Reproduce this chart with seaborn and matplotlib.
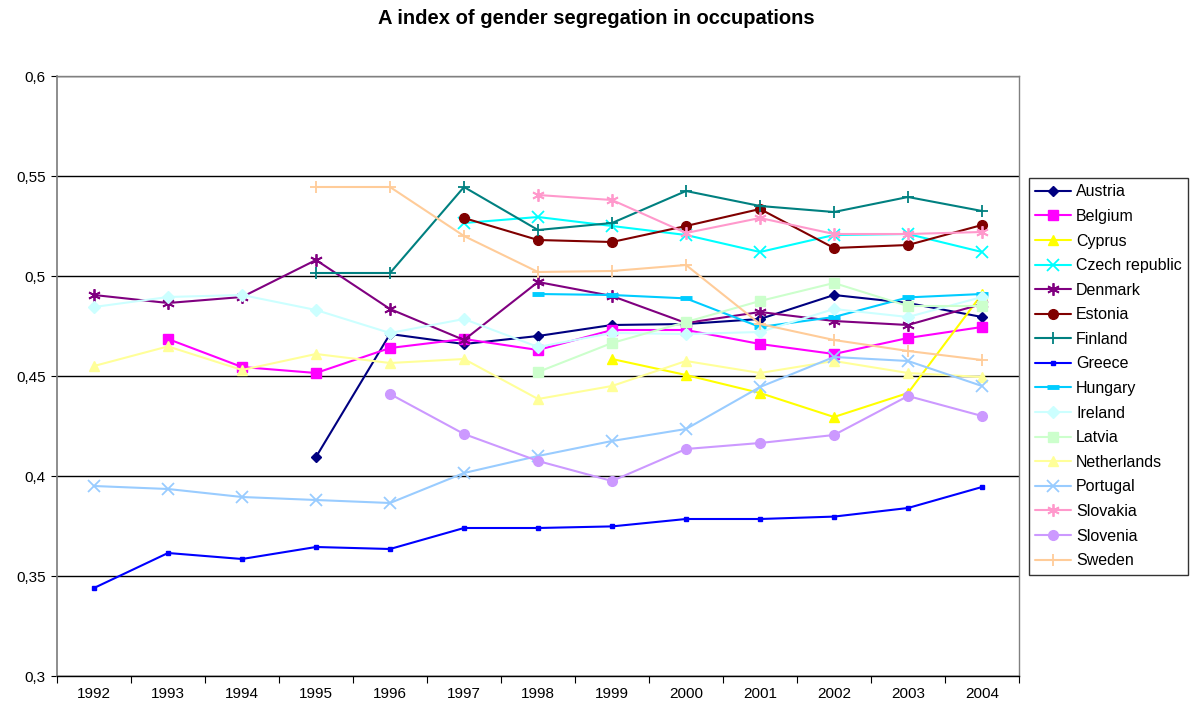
import numpy as np
import pandas as pd
import matplotlib
matplotlib.use("Agg")
import matplotlib.pyplot as plt
import seaborn as sns

years = ["1992", "1993", "1994", "1995", "1996", "1997", "1998", "1999", "2000", "2001", "2002", "2003", "2004"]
nan = np.nan

austria = [nan, nan, nan, 0.4095, 0.471, 0.466, 0.470, 0.4755, 0.476, 0.4785, 0.4905, 0.4865, 0.4795]
belgium = [nan, 0.4685, 0.4545, 0.4515, 0.464, 0.4685, 0.463, 0.473, 0.473, 0.466, 0.461, 0.469, 0.4745]
cyprus = [nan, nan, nan, nan, nan, nan, nan, 0.4585, 0.4505, 0.4415, 0.4295, 0.4415, 0.491]
czech = [nan, nan, nan, nan, nan, 0.5265, 0.5295, 0.525, 0.5205, 0.512, 0.5205, 0.521, 0.512]
denmark = [0.4905, 0.4865, 0.4895, 0.508, 0.4835, 0.468, 0.497, 0.490, 0.4765, 0.482, 0.4775, 0.4755, 0.486]
estonia = [nan, nan, nan, nan, nan, 0.529, 0.518, 0.517, 0.525, 0.5335, 0.514, 0.5155, 0.5255]
finland = [nan, nan, nan, 0.5015, 0.5015, 0.5445, 0.523, 0.5265, 0.5425, 0.535, 0.532, 0.5395, 0.5325]
greece = [0.344, 0.3615, 0.3585, 0.3645, 0.3635, 0.374, 0.374, 0.3748, 0.3785, 0.3785, 0.3797, 0.384, 0.3945]
hungary = [nan, nan, nan, nan, nan, nan, 0.491, 0.4905, 0.4888, 0.4745, 0.4795, 0.4893, 0.491]
ireland = [0.4845, 0.4895, 0.4905, 0.483, 0.4715, 0.4785, 0.4645, 0.4715, 0.471, 0.472, 0.4835, 0.4795, 0.4895]
latvia = [nan, nan, nan, nan, nan, nan, 0.452, 0.4665, 0.477, 0.4875, 0.4965, 0.485, 0.485]
netherlands = [0.455, 0.4648, 0.453, 0.461, 0.4565, 0.4585, 0.4385, 0.445, 0.4575, 0.4515, 0.4575, 0.4515, 0.4495]
portugal = [0.395, 0.3935, 0.3895, 0.388, 0.3865, 0.4015, 0.410, 0.4175, 0.4235, 0.4445, 0.4595, 0.4575, 0.445]
slovakia = [nan, nan, nan, nan, nan, nan, 0.5405, 0.538, 0.5215, 0.529, 0.521, 0.521, 0.522]
slovenia = [nan, nan, nan, nan, 0.441, 0.421, 0.4075, 0.3975, 0.4135, 0.4165, 0.4205, 0.440, 0.430]
sweden = [nan, nan, nan, 0.5445, 0.5445, 0.520, 0.502, 0.5025, 0.5055, 0.476, 0.468, 0.4625, 0.458]

countries = ["Austria", "Belgium", "Cyprus", "Czech republic", "Denmark", "Estonia", "Finland",
             "Greece", "Hungary", "Ireland", "Latvia", "Netherlands", "Portugal", "Slovakia",
             "Slovenia", "Sweden"]
series = [austria, belgium, cyprus, czech, denmark, estonia, finland, greece, hungary, ireland,
          latvia, netherlands, portugal, slovakia, slovenia, sweden]

colors = ["#000080", "#FF00FF", "#FFFF00", "#00FFFF", "#800080", "#800000", "#008080", "#0000FF",
          "#00CCFF", "#CCFFFF", "#CCFFCC", "#FFFF99", "#99CCFF", "#FF99CC", "#CC99FF", "#FFCC99"]
ast = (6, 2, 0)
markers = ["D", "s", "^", "x", ast, "o", "+", "s", "_", "D", "s", "^", "x", ast, "o", "+"]
msizes = [5, 7, 7, 8, 9, 7, 9, 3, 8, 6, 7, 7, 8, 9, 7, 9]
mews = [1, 1, 1, 1.3, 1.3, 1, 1.3, 1, 3.5, 1, 1, 1, 1.3, 1.3, 1, 1.3]

sns.set_theme(style="white")
plt.rcParams["font.family"] = ["Liberation Sans", "DejaVu Sans"]
plt.rcParams["text.color"] = "black"

fig = plt.figure(figsize=(11.93, 7.11), dpi=100)
ax = fig.add_axes([57 / 1193, 1 - 676 / 711, (1019 - 57) / 1193, 600 / 711])

xpos = np.arange(len(years))
for name, vals, c, m, ms, mew in zip(countries, series, colors, markers, msizes, mews):
    df = pd.DataFrame({"x": xpos, "y": vals}).dropna()
    sns.lineplot(data=df, x="x", y="y", ax=ax, color=c, marker=m, markersize=ms,
                 markeredgewidth=mew, markeredgecolor=c, markerfacecolor=c,
                 linewidth=1.5, label=name, sort=False, estimator=None)

ax.set_xlim(-0.5, len(years) - 0.5)
ax.set_ylim(0.3, 0.6)
yt = [0.3, 0.35, 0.4, 0.45, 0.5, 0.55, 0.6]
ax.set_yticks(yt)
ax.set_yticklabels([("%g" % v).replace(".", ",") for v in yt], fontsize=11)
ax.set_xticks(xpos)
ax.set_xticklabels(years, fontsize=11)
ax.set_xticks(np.arange(-0.5, len(years), 1), minor=True)
ax.tick_params(axis="x", which="major", length=0, pad=8, colors="black")
ax.tick_params(axis="x", which="minor", length=5, width=0.8, direction="out", color="black", bottom=True)
ax.tick_params(axis="y", which="major", length=4, width=0.8, direction="out", color="black", left=True, pad=4, colors="black")
ax.grid(axis="y", color="black", linewidth=1.0)
ax.grid(axis="x", visible=False)
ax.set_axisbelow(True)
ax.set_xlabel("")
ax.set_ylabel("")
for s in ["top", "right"]:
    ax.spines[s].set_color("#808080")
    ax.spines[s].set_linewidth(1.0)
ax.spines["left"].set_color("#808080")
ax.spines["bottom"].set_color("black")
ax.spines["bottom"].set_linewidth(1.0)

fig.suptitle("A index of gender segregation in occupations", x=0.5, y=1 - 18 / 711,
             va="center", fontsize=14.5, fontweight="bold", color="black")

leg = ax.legend(loc="upper left", bbox_to_anchor=(1029 / 1193, 1 - 178 / 711),
                bbox_transform=fig.transFigure, fontsize=11.5, frameon=True, fancybox=False,
                edgecolor="black", handlelength=2.2, labelspacing=0.6, borderpad=0.4,
                handletextpad=0.35, borderaxespad=0)
leg.get_frame().set_linewidth(1.0)
for t in leg.get_texts():
    t.set_color("black")

fig.savefig("out.png", dpi=100)
